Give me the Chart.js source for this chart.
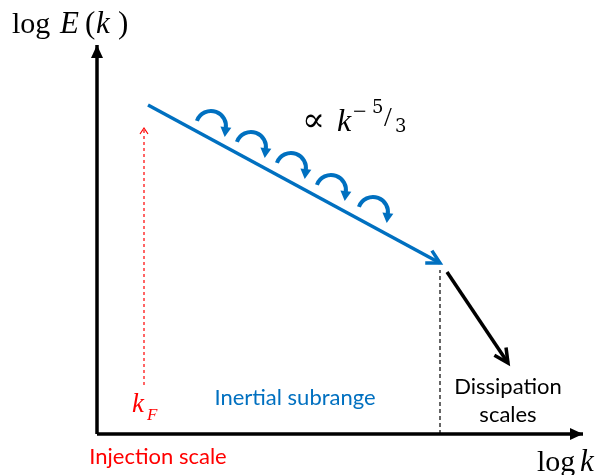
<!DOCTYPE html>
<html>
<head>
<meta charset="utf-8">
<script src="https://cdn.jsdelivr.net/npm/chart.js@4.4.0/dist/chart.umd.min.js"></script>
<style>
  html, body { margin: 0; padding: 0; background: #fff; }
  #wrap { width: 604px; height: 475px; position: relative; }
</style>
</head>
<body>
<div id="wrap"><canvas id="spectrumChart"></canvas></div>
<script>
// schematic coordinates: x = log k, y = log E, origin at the axis corner
const axisY = [{x: 0, y: 0}, {x: 0, y: 3.89}];
const axisX = [{x: 0, y: 0}, {x: 4.86, y: 0}];
const inertialLine = [{x: 0.51, y: 3.29}, {x: 3.43, y: 1.71}];
const injectionLine = [{x: 0.47, y: 0.49}, {x: 0.47, y: 3.06}];
const dissipationMark = [{x: 3.43, y: 0}, {x: 3.43, y: 1.64}];
const dissipationArrow = [{x: 3.50, y: 1.62}, {x: 4.11, y: 0.71}];

// eddies along the cascade (centre x, centre y, radius)
const eddyX = [1.14, 1.54, 1.94, 2.34, 2.76];
const eddyY = [3.08, 2.87, 2.66, 2.44, 2.22];
const eddyR = [0.15, 0.15, 0.15, 0.15, 0.15];

const BLUE = '#0070C0';
const RED = '#FF0000';

function drawHead(ctx, x, y, ang, len, half, color, filled, lw) {
    var c = Math.cos(ang), s = Math.sin(ang);
    ctx.save();
    ctx.beginPath();
    ctx.moveTo(x - len * c - half * s, y - len * s + half * c);
    ctx.lineTo(x, y);
    ctx.lineTo(x - len * c + half * s, y - len * s - half * c);
    if (filled) {
        ctx.closePath();
        ctx.fillStyle = color;
        ctx.fill();
    } else {
        ctx.strokeStyle = color;
        ctx.lineWidth = lw;
        ctx.lineJoin = 'miter';
        ctx.stroke();
    }
    ctx.restore();
}

// arrow heads + eddies + text
const schemePlugin = {
    id: 'scheme',
    afterDatasetsDraw(chart) {
        const ctx = chart.ctx;
        const sx = chart.scales.x, sy = chart.scales.y;
        const px = v => sx.getPixelForValue(v);
        const py = v => sy.getPixelForValue(v);

        chart.data.datasets.forEach((ds, i) => {
            if (!ds.head) return;
            const pts = chart.getDatasetMeta(i).data;
            const a = pts[pts.length - 2], b = pts[pts.length - 1];
            const ang = Math.atan2(b.y - a.y, b.x - a.x);
            drawHead(ctx, b.x, b.y, ang, ds.head.len, ds.head.half, ds.borderColor, ds.head.filled, ds.borderWidth);
        });

        // eddies
        const a0 = 200 * Math.PI / 180, a1 = (360 + 12) * Math.PI / 180;
        for (let i = 0; i < eddyX.length; i++) {
            const cx = px(eddyX[i]), cy = py(eddyY[i]);
            const r = px(eddyR[i]) - px(0);
            ctx.save();
            ctx.beginPath();
            ctx.arc(cx, cy, r, a0, a1, false);
            ctx.strokeStyle = BLUE;
            ctx.lineWidth = 4;
            ctx.stroke();
            ctx.restore();
            const ex = cx + r * Math.cos(a1), ey = cy + r * Math.sin(a1);
            const dir = 97 * Math.PI / 180;
            drawHead(ctx, ex + 8 * Math.cos(dir), ey + 8 * Math.sin(dir), dir, 10, 5.5, BLUE, true);
        }

        // text
        ctx.save();
        ctx.textBaseline = 'alphabetic';
        ctx.textAlign = 'left';
        const serif = '"Liberation Serif", serif';
        const put = (txt, font, x, y) => { ctx.font = font; ctx.fillText(txt, x, y); };

        ctx.fillStyle = '#000';
        // log E(k)
        put('log', '30px ' + serif, 12, 33);
        put('E', 'italic 31px ' + serif, 60, 33);
        put('(', '31px ' + serif, 85, 33);
        put('k', 'italic 31px ' + serif, 96, 33);
        put(')', '31px ' + serif, 118, 33);

        // log k
        put('log', '30px ' + serif, 537, 471);
        put('k', 'italic 31px ' + serif, 580, 471);

        // proportional to k^-5/3
        put('\u221D', '34px "DejaVu Serif", serif', 302, 131);
        put('k', 'italic 32px ' + serif, 337, 131);
        put('\u2212', '24px ' + serif, 353, 119);
        put('5', '18px "DejaVu Serif", serif', 372, 113);
        put('/', '28px ' + serif, 384, 126);
        put('3', '18px "DejaVu Serif", serif', 395, 132);

        // k_F
        ctx.fillStyle = RED;
        put('k', 'italic 27px ' + serif, 132, 412);
        put('F', 'italic 17px ' + serif, 147, 420);

        ctx.textAlign = 'center';
        ctx.textBaseline = 'middle';
        ctx.font = '22px Lato, "Open Sans", sans-serif';
        ctx.fillStyle = RED;
        ctx.fillText('Injection scale', px(0.61), py(-0.23));
        ctx.fillStyle = BLUE;
        ctx.fillText('Inertial subrange', px(1.98), py(0.36));
        ctx.fillStyle = '#000';
        ctx.fillText('Dissipation', px(4.11), py(0.47));
        ctx.fillText('scales', px(4.11), py(0.19));
        ctx.restore();
    }
};

const ctx = document.getElementById('spectrumChart').getContext('2d');
new Chart(ctx, {
    type: 'scatter',
    data: {
        datasets: [
            {data: axisY, borderColor: '#000', borderWidth: 3.5, head: {len: 13, half: 6, filled: true}},
            {data: axisX, borderColor: '#000', borderWidth: 3.5, head: {len: 13, half: 6, filled: true}},
            {data: injectionLine, borderColor: RED, borderWidth: 1.2, borderDash: [3, 3], head: {len: 6, half: 4, filled: false}},
            {data: dissipationMark, borderColor: '#000', borderWidth: 1.2, borderDash: [4, 3]},
            {data: inertialLine, borderColor: BLUE, borderWidth: 3.5, head: {len: 13, half: 7, filled: false}},
            {data: dissipationArrow, borderColor: '#000', borderWidth: 3.5, head: {len: 14, half: 7, filled: false}}
        ].map(d => Object.assign({showLine: true, pointRadius: 0, fill: false, tension: 0}, d))
    },
    options: {
        responsive: true,
        maintainAspectRatio: false,
        animation: false,
        layout: {padding: 0},
        plugins: {legend: {display: false}, tooltip: {enabled: false}},
        scales: {
            x: {type: 'linear', min: -0.97, max: 5.07, display: false},
            y: {type: 'linear', min: -0.41, max: 4.34, display: false}
        }
    },
    plugins: [schemePlugin]
});
</script>
</body>
</html>
